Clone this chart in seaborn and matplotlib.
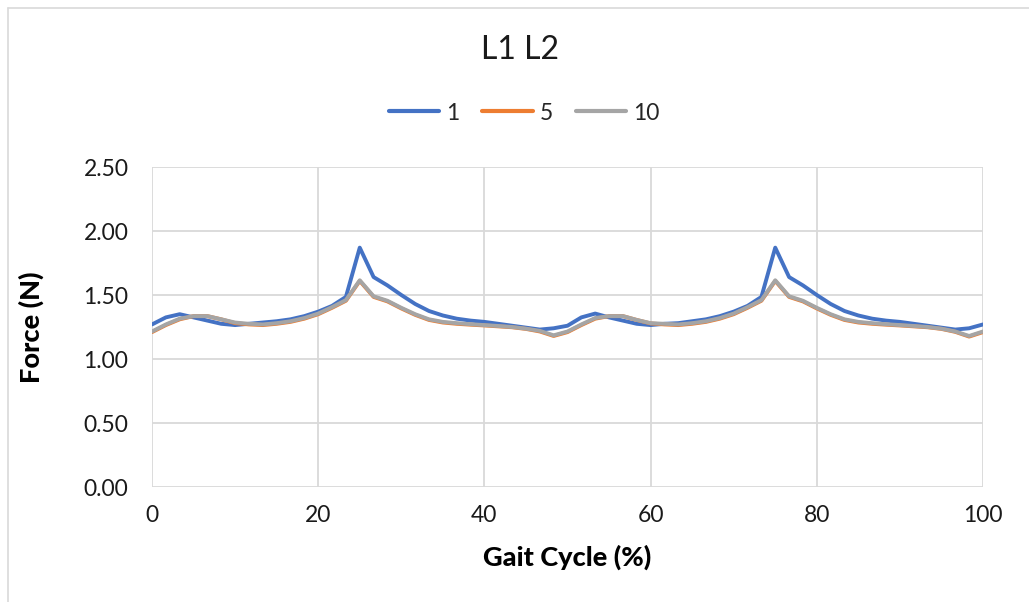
import numpy as np
import pandas as pd
import seaborn as sns
import matplotlib
matplotlib.use("Agg")
import matplotlib.pyplot as plt
from matplotlib.lines import Line2D

# ---- data ----
gait = [round(i * 100 / 60, 3) for i in range(61)]

force_1 = [1.27, 1.325, 1.35, 1.325, 1.30, 1.275, 1.265, 1.275, 1.285, 1.295,
           1.31, 1.335, 1.37, 1.415, 1.485, 1.87, 1.64, 1.575, 1.50, 1.43,
           1.375, 1.34, 1.315, 1.30, 1.29, 1.275, 1.26, 1.245, 1.23, 1.24,
           1.26, 1.325, 1.355, 1.325, 1.30, 1.275, 1.265, 1.275, 1.28, 1.295,
           1.31, 1.335, 1.37, 1.415, 1.485, 1.87, 1.64, 1.575, 1.50, 1.43,
           1.375, 1.34, 1.315, 1.30, 1.29, 1.275, 1.26, 1.245, 1.23, 1.24,
           1.27]

force_5 = [1.21, 1.265, 1.31, 1.335, 1.335, 1.31, 1.28, 1.27, 1.265, 1.275,
           1.29, 1.315, 1.35, 1.40, 1.455, 1.61, 1.485, 1.45, 1.395, 1.345,
           1.305, 1.285, 1.275, 1.268, 1.262, 1.255, 1.248, 1.235, 1.215, 1.18,
           1.21, 1.265, 1.315, 1.335, 1.335, 1.305, 1.278, 1.27, 1.265, 1.275,
           1.29, 1.315, 1.35, 1.40, 1.455, 1.61, 1.485, 1.45, 1.395, 1.345,
           1.305, 1.285, 1.275, 1.268, 1.262, 1.255, 1.248, 1.235, 1.212, 1.175,
           1.21]

force_10 = [1.215, 1.27, 1.315, 1.335, 1.335, 1.31, 1.285, 1.275, 1.27, 1.28,
            1.295, 1.32, 1.355, 1.405, 1.46, 1.615, 1.49, 1.455, 1.40, 1.35,
            1.31, 1.29, 1.28, 1.272, 1.265, 1.258, 1.25, 1.237, 1.22, 1.185,
            1.215, 1.27, 1.32, 1.335, 1.335, 1.305, 1.28, 1.275, 1.27, 1.28,
            1.295, 1.32, 1.355, 1.405, 1.46, 1.615, 1.49, 1.455, 1.40, 1.35,
            1.31, 1.29, 1.28, 1.272, 1.265, 1.258, 1.25, 1.237, 1.215, 1.18,
            1.215]

series_names = ["1", "5", "10"]
colors = ["#4472C4", "#ED7D31", "#A5A5A5"]

df = pd.concat([
    pd.DataFrame({"Gait": gait, "Force": vals, "Series": name})
    for name, vals in zip(series_names, [force_1, force_5, force_10])
], ignore_index=True)

# ---- plot ----
sns.set_theme(style="white")
plt.rcParams["font.family"] = ["Lato", "DejaVu Sans"]

W, H = 1029, 602
fig = plt.figure(figsize=(W / 100, H / 100), dpi=100)
ax = fig.add_axes([152 / W, 1 - 487 / H, (983 - 152) / W, (487 - 167) / H])

sns.lineplot(data=df, x="Gait", y="Force", hue="Series", hue_order=series_names,
             palette=colors, linewidth=2.8, ax=ax, legend=False)

ax.set_xlim(0, 100)
ax.set_ylim(0, 2.5)
ax.set_xticks(np.arange(0, 101, 20))
ax.set_yticks(np.arange(0, 2.51, 0.5))
ax.set_yticklabels([f"{v:.2f}" for v in np.arange(0, 2.51, 0.5)])
ax.grid(True, color="#D9D9D9", linewidth=1.3)
ax.set_axisbelow(True)
for s in ax.spines.values():
    s.set_visible(False)
ax.tick_params(axis="both", length=0, labelsize=16.5, colors="#1a1a1a")
ax.tick_params(axis="x", pad=13)
ax.tick_params(axis="y", pad=17)

ax.set_xlabel("Gait Cycle (%)", fontsize=19.5, fontweight="black", color="black")
ax.set_ylabel("Force (N)", fontsize=19.5, fontweight="black", color="black")
ax.xaxis.set_label_coords((567 - 152) / (983 - 152), (487 - 557) / (487 - 167))
ax.xaxis.label.set_va("center")
ax.yaxis.set_label_coords((31 - 152) / (983 - 152), (487 - 327) / (487 - 167))
ax.yaxis.label.set_va("center")
ax.yaxis.label.set_ha("center")

fig.text(520 / W, 1 - 50 / H, "L1 L2", ha="center", va="center", fontsize=23, color="#1a1a1a")

handles = [Line2D([0], [0], color=c, linewidth=3, solid_capstyle="round") for c in colors]
fig.legend(handles, series_names, loc="center", bbox_to_anchor=(524 / W, 1 - 113 / H),
           ncol=3, frameon=False, fontsize=16.5, handlelength=2.2, handletextpad=0.3,
           columnspacing=1.0)

# outer chart border (Excel-like)
fig.add_artist(Line2D([7.5 / W, 7.5 / W], [0, 1 - 7.5 / H], transform=fig.transFigure,
                      color="#D9D9D9", linewidth=1.2))
fig.add_artist(Line2D([7.5 / W, 1], [1 - 7.5 / H, 1 - 7.5 / H], transform=fig.transFigure,
                      color="#D9D9D9", linewidth=1.2))

fig.savefig("out.png", dpi=100, facecolor="white")
